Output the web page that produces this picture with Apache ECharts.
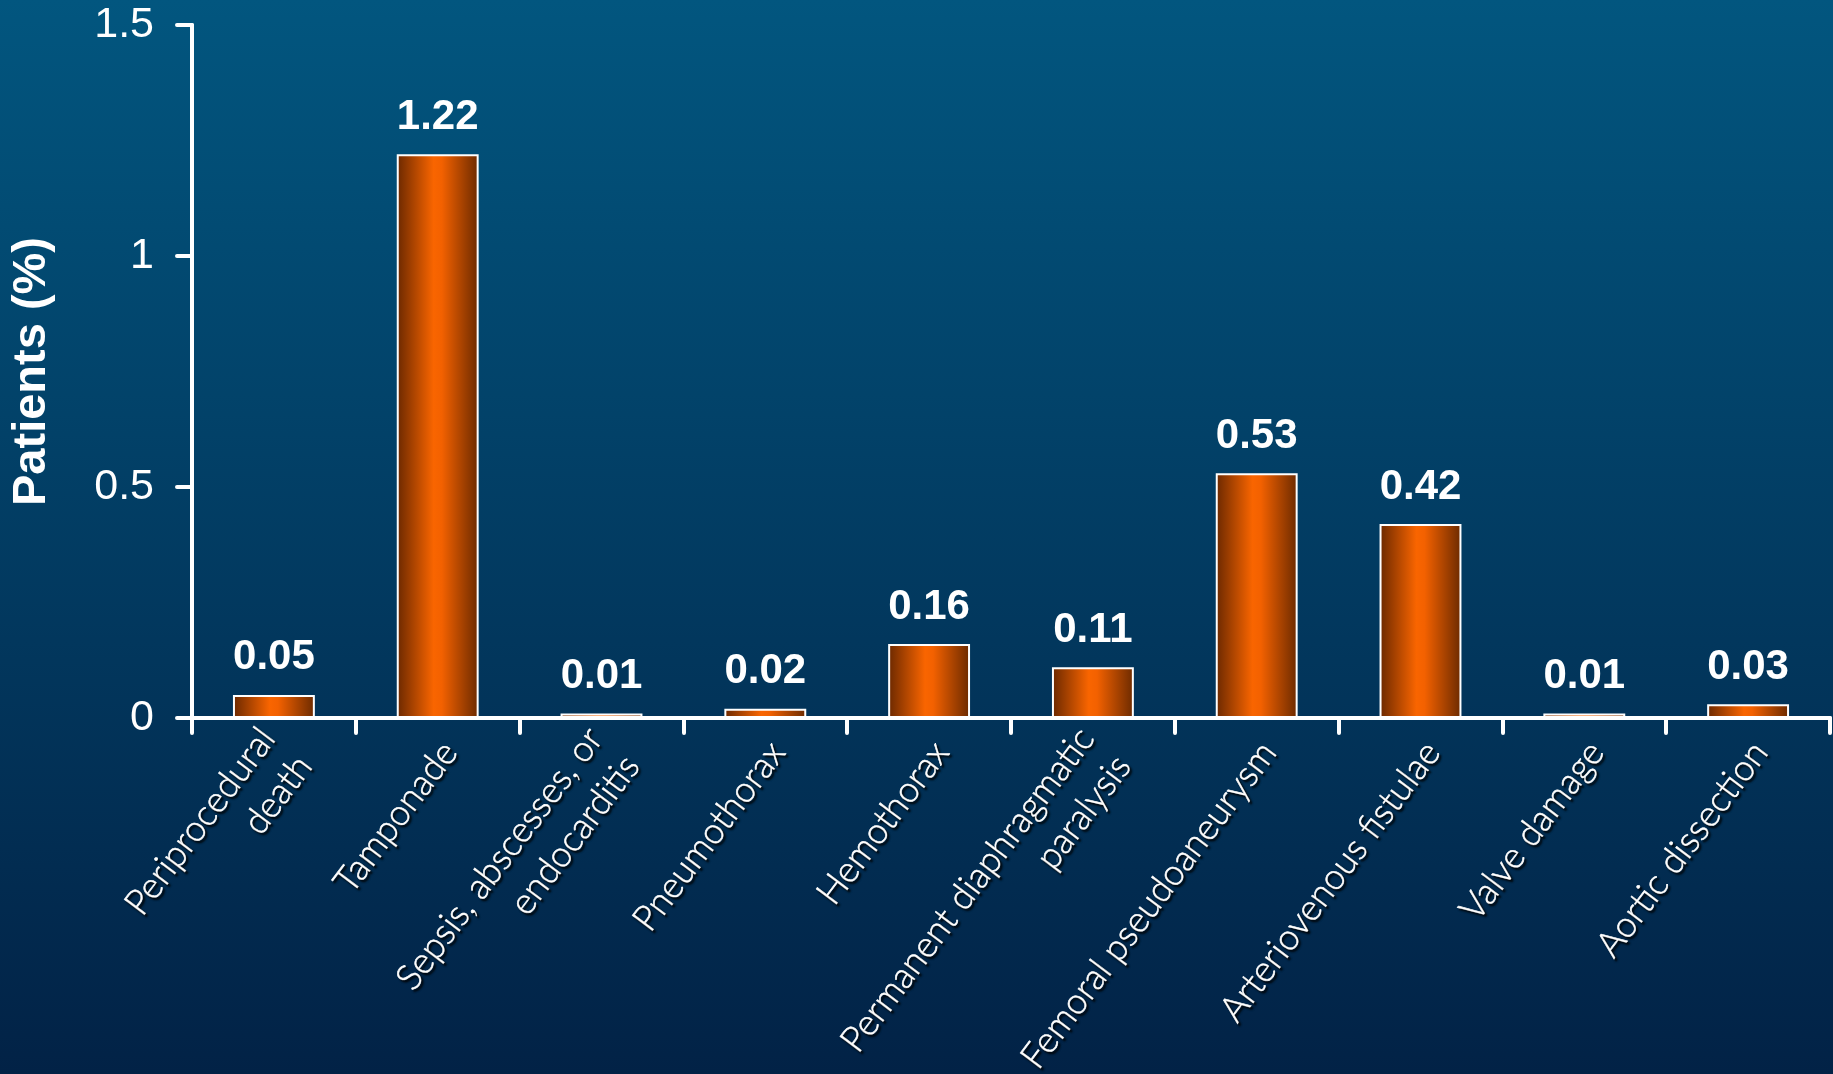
<!DOCTYPE html>
<html>
<head>
<meta charset="utf-8">
<script src="https://cdn.jsdelivr.net/npm/echarts@6/dist/echarts.min.js"></script>
<style>
  html, body { margin: 0; padding: 0; width: 100%; height: 100%; overflow: hidden; }
  #chart { width: 1833px; height: 1074px; }
</style>
</head>
<body>
<div id="chart"></div>
<script>
// Complication categories (line breaks as shown under the axis)
const categories = [
  'Periprocedural\ndeath',
  'Tamponade',
  'Sepsis, abscesses, or\nendocarditis',
  'Pneumothorax',
  'Hemothorax',
  'Permanent diaphragmatic\nparalysis',
  'Femoral pseudoaneurysm',
  'Arteriovenous fistulae',
  'Valve damage',
  'Aortic dissection'
];

// Share of patients with each complication, in percent
const patientsPct = [0.05, 1.22, 0.01, 0.02, 0.16, 0.11, 0.53, 0.42, 0.01, 0.03];

// Value-axis ticks
const yTicks = [0, 0.5, 1, 1.5];
const yAxisName = 'Patients (%)';

const chart = echarts.init(document.getElementById('chart'), null, { renderer: 'canvas' });

const barFill = new echarts.graphic.LinearGradient(0, 0, 1, 0, [
  { offset: 0, color: '#6a2800' },
  { offset: 0.45, color: '#f96500' },
  { offset: 0.55, color: '#f36100' },
  { offset: 1, color: '#6b2a00' }
]);

chart.setOption({
  backgroundColor: {
    type: 'linear', x: 0, y: 0, x2: 0, y2: 1,
    colorStops: [
      { offset: 0, color: '#02567f' },
      { offset: 1, color: '#022246' }
    ]
  },
  animation: false,
  grid: { left: 192, right: 3, top: 25, bottom: 356, containLabel: false, outerBoundsMode: 'none' },
  xAxis: {
    type: 'category',
    data: categories,
    boundaryGap: true,
    axisLine: { show: true, lineStyle: { color: '#ffffff', width: 4 } },
    axisTick: { show: true, length: 15, interval: 0, lineStyle: { color: '#ffffff', width: 4, cap: 'round' } },
    axisLabel: {
      interval: 0,
      rotate: 53,
      margin: 44,
      padding: [0, -20, 0, 0],
      color: '#ffffff',
      fontFamily: 'Lato, "Open Sans", sans-serif',
      fontWeight: 300,
      fontSize: 36,
      lineHeight: 46,
      textBorderColor: '#ffffff',
      textBorderWidth: 0.6,
      textShadowColor: 'rgba(0,0,0,0.85)',
      textShadowOffsetX: 2,
      textShadowOffsetY: 2,
      textShadowBlur: 2
    },
    splitLine: { show: false }
  },
  yAxis: {
    type: 'value',
    min: yTicks[0],
    max: yTicks[yTicks.length - 1],
    interval: yTicks[1] - yTicks[0],
    name: yAxisName,
    nameLocation: 'middle',
    nameRotate: 90,
    nameGap: 136,
    nameTextStyle: {
      color: '#ffffff',
      fontFamily: '"Liberation Sans", Arial, sans-serif',
      fontWeight: 'bold',
      fontSize: 47
    },
    axisLine: { show: true, lineStyle: { color: '#ffffff', width: 4 } },
    axisTick: { show: true, length: 15, lineStyle: { color: '#ffffff', width: 4, cap: 'round' } },
    axisLabel: {
      color: '#ffffff',
      fontFamily: '"Liberation Sans", Arial, sans-serif',
      fontSize: 43,
      margin: 38
    },
    splitLine: { show: false }
  },
  series: [{
    type: 'bar',
    data: patientsPct,
    barWidth: '50%',
    itemStyle: { color: barFill, borderColor: '#ffffff', borderWidth: 2 },
    label: {
      show: true,
      position: 'top',
      distance: 16,
      color: '#ffffff',
      fontFamily: '"Liberation Sans", Arial, sans-serif',
      fontWeight: 'bold',
      fontSize: 42
    }
  }]
});
</script>
</body>
</html>
